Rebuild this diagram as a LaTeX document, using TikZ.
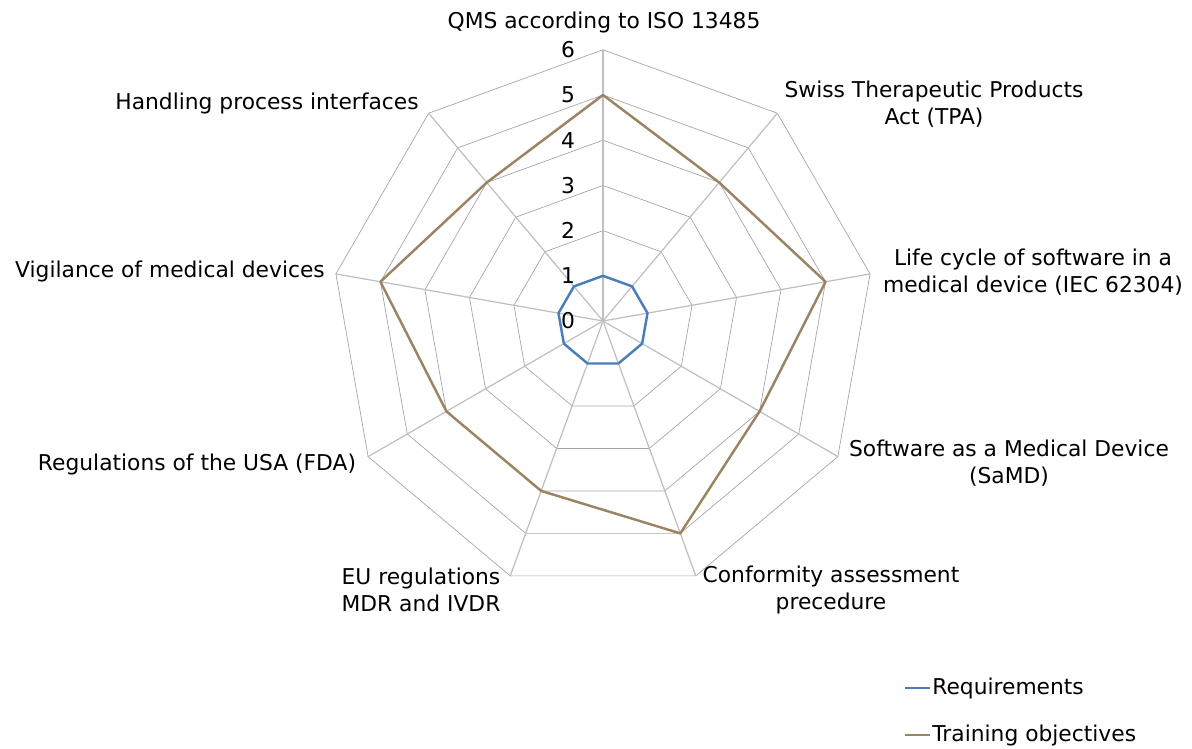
\documentclass[tikz,border=0pt]{standalone}
\usepackage{fontspec}
\setmainfont{DejaVu Sans}
\definecolor{reqblue}{HTML}{4A7EBB}
\definecolor{trainbrown}{HTML}{9A8462}
\definecolor{gridgray}{HTML}{A6A6A6}
\definecolor{spokegray}{HTML}{BFBFBF}
\tikzset{
  gridline/.style={draw=gridgray, line width=0.4pt},
  spoke/.style={draw=spokegray, line width=0.7pt},
  reqline/.style={draw=reqblue, line width=1.4pt},
  trainline/.style={draw=trainbrown, line width=1.4pt},
  axislabel/.style={font=\fontsize{12.4}{15.4}\selectfont, align=center, inner sep=0pt},
  ticklabel/.style={font=\fontsize{12.4}{15.4}\selectfont, inner sep=0pt}
}
\begin{document}
\begin{tikzpicture}[x=0.02cm,y=0.02cm,line join=round,line cap=round]
\useasboundingbox (-603,-427) rectangle (589,321);
\coordinate (O) at (0,0);
% web
\foreach \r in {1,...,6}
  \draw[gridline] (90:\r*45.2) \foreach \k in {1,...,8}{ -- (90-40*\k:\r*45.2)} -- cycle;
\foreach \k in {0,...,8}
  \draw[spoke] (O) -- (90-40*\k:6*45.2);
% scale
\foreach \r in {0,...,6}
  \node[ticklabel] (tick\r) at (-35,\r*45.2) {\r};
% series
\foreach \i in {0,...,8}
  \coordinate (R\i) at (90-40*\i:45.2);
\foreach \v [count=\i from 0] in {5,4,5,4,5,4,4,5,4}
  \coordinate (T\i) at (90-40*\i:\v*45.2);
\draw[reqline] (R0)--(R1)--(R2)--(R3)--(R4)--(R5)--(R6)--(R7)--(R8)--cycle;
\draw[trainline] (T0)--(T1)--(T2)--(T3)--(T4)--(T5)--(T6)--(T7)--(T8)--cycle;
% categories
\node[axislabel] (qms) at (1,299) {QMS according to ISO 13485};
\node[axislabel] (tpa) at (331,217) {Swiss Therapeutic Products\\Act (TPA)};
\node[axislabel] (iec) at (430,49) {Life cycle of software in a\\medical device (IEC 62304)};
\node[axislabel] (samd) at (406,-142) {Software as a Medical Device\\(SaMD)};
\node[axislabel] (conf) at (228,-269) {Conformity assessment\\precedure};
\node[axislabel] (eu) at (-182,-269) {EU regulations\\MDR and IVDR};
\node[axislabel] (fda) at (-406,-143) {Regulations of the USA (FDA)};
\node[axislabel] (vig) at (-433,50) {Vigilance of medical devices};
\node[axislabel] (hpi) at (-336,218) {Handling process interfaces};
% legend
\coordinate (L1a) at (302,-367);
\coordinate (L1b) at (327,-367);
\coordinate (L2a) at (302,-414);
\coordinate (L2b) at (327,-414);
\draw[reqline, line cap=butt] (L1a) -- (L1b);
\draw[trainline, line cap=butt] (L2a) -- (L2b);
\node[ticklabel, anchor=west] (legreq) at (329,-367) {Requirements};
\node[ticklabel, anchor=west] (legtrain) at (329,-414) {Training objectives};
\end{tikzpicture}
\end{document}
